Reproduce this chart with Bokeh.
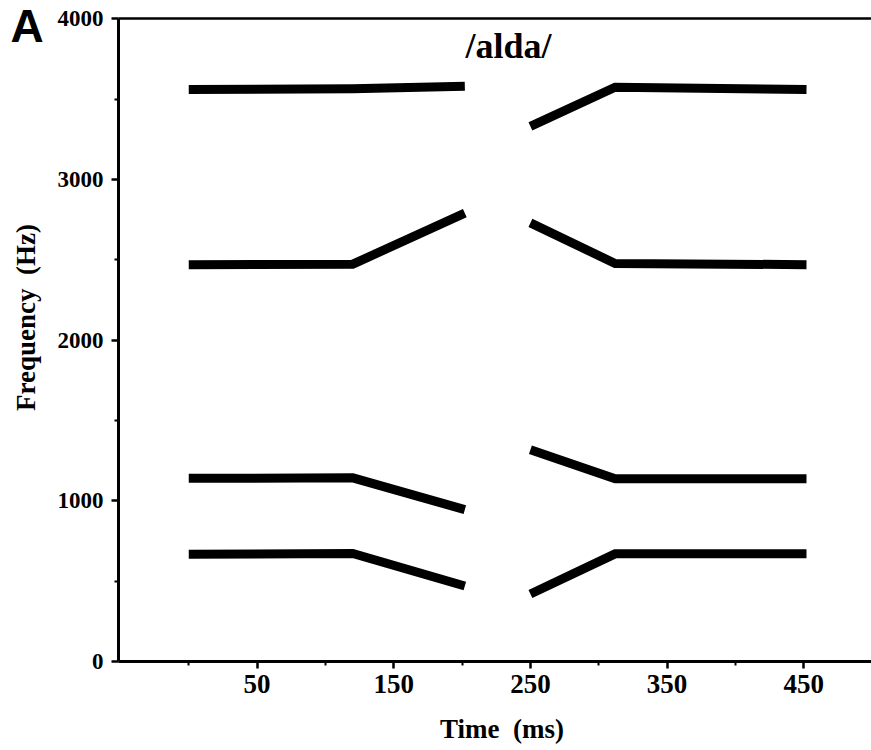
import math
from bokeh.plotting import figure
from bokeh.models import Range1d, FixedTicker, Label, LinearAxis
from bokeh.embed import file_html
from bokeh.resources import INLINE

# Formant tracks of /alda/: first syllable and second syllable (time in ms, frequency in Hz)
time_a = [0, 120, 202]
f1_a = [668, 672, 470]
f2_a = [1140, 1143, 945]
f3_a = [2470, 2473, 2790]
f4_a = [3560, 3565, 3580]

time_b = [250, 312, 452]
f1_b = [420, 670, 670]
f2_b = [1318, 1138, 1138]
f3_b = [2730, 2477, 2470]
f4_b = [3331, 3574, 3560]

x_ticks = [50, 150, 250, 350, 450]
x_minor = [0, 100, 200, 300, 400, 500]
y_ticks = [0, 1000, 2000, 3000, 4000]
y_minor = [500, 1500, 2500, 3500]

# axis extents (data units)
T_MIN, T_MAX = -51.4, 499.6
F_MIN, F_MAX = 0, 4000

SERIF = "Liberation Serif"

# the frame fills the whole canvas; axes sit at fixed data locations inside it
p = figure(
    width=871, height=750,
    x_range=Range1d(-137.74, 499.56), y_range=Range1d(-553.9, 4113.9),
    output_backend="svg", toolbar_location=None,
    min_border=0,
)
p.grid.visible = False
p.outline_line_color = None
p.background_fill_color = "white"
p.border_fill_color = "white"

# formant lines
for t, f in [(time_a, f1_a), (time_a, f2_a), (time_a, f3_a), (time_a, f4_a),
             (time_b, f1_b), (time_b, f2_b), (time_b, f3_b), (time_b, f4_b)]:
    p.line(t, f, line_width=9, line_color="black", line_cap="butt", line_join="miter")

xax = p.xaxis[0]
yax = p.yaxis[0]
xax.fixed_location = F_MIN
xax.bounds = (T_MIN, T_MAX)
yax.fixed_location = T_MIN
yax.bounds = (F_MIN, F_MAX)

# top edge of the plotting area
top = LinearAxis(fixed_location=F_MAX, bounds=(T_MIN, T_MAX),
                 ticker=FixedTicker(ticks=[]), major_label_text_font_size="0px",
                 major_tick_line_color=None, minor_tick_line_color=None,
                 axis_line_width=2.5, axis_line_color="black")
p.add_layout(top, "above")

for ax in (xax, yax):
    ax.axis_line_width = 3
    ax.axis_line_color = "black"
    ax.major_tick_line_width = 2.5
    ax.minor_tick_line_width = 2
    ax.major_tick_in = 0
    ax.minor_tick_in = 0
    ax.major_tick_out = 7
    ax.minor_tick_out = 4
    ax.major_label_text_font = SERIF
    ax.major_label_text_font_style = "bold"
    ax.major_label_text_color = "black"

xax.ticker = FixedTicker(ticks=x_ticks, minor_ticks=x_minor)
yax.ticker = FixedTicker(ticks=y_ticks, minor_ticks=y_minor)
xax.major_label_text_font_size = "27px"
yax.major_label_text_font_size = "23px"
xax.major_label_standoff = 6
yax.major_label_standoff = 8

# axis titles, panel letter and plot title
p.add_layout(Label(x=229.2, y=-417, text="Time\u00a0 (ms)", text_align="center",
                   text_baseline="alphabetic",
                   text_font=SERIF, text_font_style="bold", text_font_size="27px",
                   text_color="black"))
p.add_layout(Label(x=-118.8, y=2141, text="Frequency\u00a0 (Hz)", angle=math.pi / 2,
                   text_align="center", text_baseline="middle",
                   text_font=SERIF, text_font_style="bold", text_font_size="27px",
                   text_color="black"))
p.add_layout(Label(x=-130.5, y=3958, text="A", text_align="left", text_baseline="alphabetic",
                   text_font="Liberation Sans", text_font_style="bold", text_font_size="46px",
                   text_color="black"))
p.add_layout(Label(x=234, y=3828, text="/alda/", text_align="center", text_baseline="alphabetic",
                   text_font=SERIF, text_font_style="bold", text_font_size="36px",
                   text_color="black"))

open("out.html", "w").write(file_html(p, INLINE))
